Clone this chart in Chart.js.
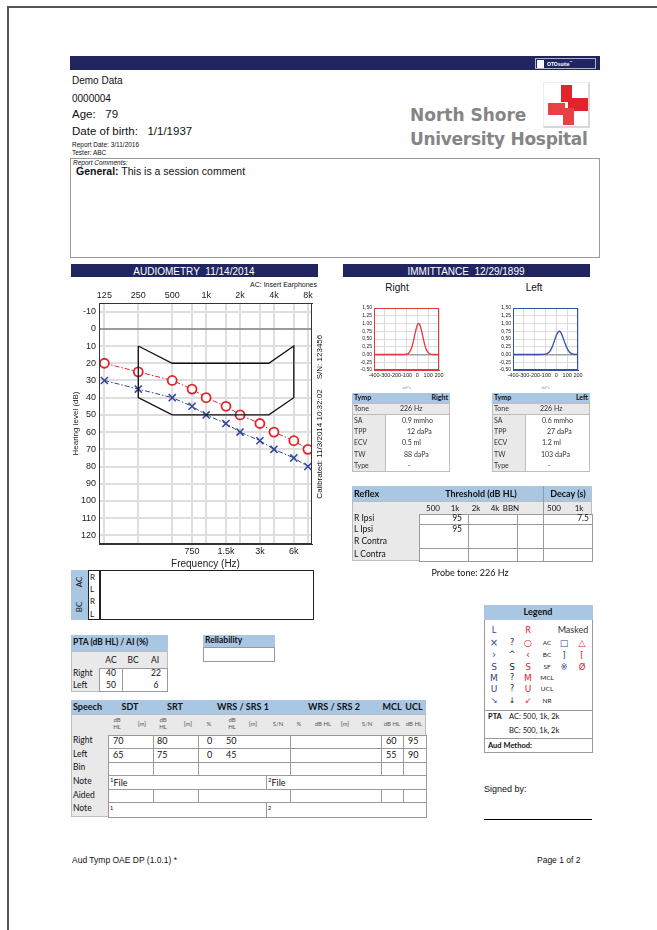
<!DOCTYPE html>
<html>
<head>
<meta charset="utf-8">
<script src="https://cdn.jsdelivr.net/npm/chart.js"></script>
<style>
  html, body { margin: 0; padding: 0; background: #fff; overflow: hidden; }
  body { width: 657px; height: 930px; font-family: "Liberation Sans", Arial, sans-serif; color: #111; }
  #page { position: absolute; left: 0; top: 0; width: 657px; height: 930px; }
  canvas { position: absolute; }
</style>
</head>
<body>
<div id="page">
  <div style="position:absolute;left:7px;top:6px;width:700px;height:1000px;border-left:2px solid #555;border-top:2px solid #555;"></div>
  <canvas id="audiogram" width="268" height="280" style="left:62px;top:290px;"></canvas>
  <canvas id="tympR" width="110" height="90" style="left:340px;top:300px;"></canvas>
  <canvas id="tympL" width="110" height="90" style="left:479px;top:300px;"></canvas>
</div>
<script>
// audiogram values (dB HL)
const freqs = [125, 250, 500, 750, 1000, 1500, 2000, 3000, 4000, 6000, 8000];
const rightAC = [20, 25, 30, 35, 40, 45, 50, 55, 60, 65, 70];
const leftAC = [30, 35, 40, 45, 50, 55, 60, 65, 70, 75, 80];

// speech banana outline
const bananaFreq = [250, 500, 3600, 6000, 6000, 3600, 500, 250, 250];
const bananaDb = [10, 20, 20, 10, 40, 50, 50, 40, 10];

const topTicks = [125, 250, 500, 1000, 2000, 4000, 8000];
const topLabels = ['125', '250', '500', '1k', '2k', '4k', '8k'];
const bottomTicks = [750, 1500, 3000, 6000];
const bottomLabels = ['750', '1.5k', '3k', '6k'];
const dbTicks = [-10, 0, 10, 20, 30, 40, 50, 60, 70, 80, 90, 100, 110, 120];

// tympanograms (daPa / mmho)
const rightPressure = [-400, -150, -100, -80, -60, -40, -20, 0, 12, 20, 40, 60, 80, 100, 120, 140, 200];
const rightAdm = [0, 0, 0.01, 0.04, 0.15, 0.37, 0.69, 0.95, 1.0, 0.98, 0.75, 0.43, 0.18, 0.06, 0.01, 0, 0];
const leftPressure = [-400, -150, -100, -80, -60, -40, -20, 0, 27, 40, 60, 80, 100, 120, 140, 160, 200];
const leftAdm = [0, 0, 0.01, 0.04, 0.1, 0.23, 0.42, 0.62, 0.75, 0.72, 0.56, 0.36, 0.19, 0.08, 0.03, 0.01, 0];

const navy = '#20255f';
const lblue = '#a9c7e3';
const red = '#e3232c';
const blue = '#2e4496';

const page = document.getElementById('page');

function box(x, y, w, h, style) {
  const d = document.createElement('div');
  d.style.cssText = `position:absolute;left:${x}px;top:${y}px;width:${w}px;height:${h}px;box-sizing:border-box;` + (style || '');
  page.appendChild(d);
  return d;
}

function txt(x, y, s, size, style, align) {
  const d = document.createElement('div');
  d.innerHTML = s;
  const tx = align === 'right' ? '-100%' : align === 'center' ? '-50%' : '0';
  d.style.cssText = `position:absolute;left:${x}px;top:${y}px;font-size:${size}px;line-height:1.1;white-space:nowrap;transform:translate(${tx},-50%);` + (style || '');
  page.appendChild(d);
  return d;
}

function rot(x, y, s, size, style) {
  const d = txt(x, y, s, size, style, 'center');
  d.style.transform = 'translate(-50%,-50%) rotate(-90deg)';
  return d;
}

const TB = 'font-family:Lato,"Noto Sans",sans-serif;';

// header bar
box(70, 56, 530, 14, 'background:' + navy);
box(535, 58, 61, 11, 'background:' + navy + ';border:1px solid #aab3d0');
box(537, 59.5, 7, 8, 'background:#fff');
txt(547, 63.5, 'OTOsuite<sup style="font-size:3px">™</sup>', 5, 'color:#fff;font-weight:bold;');

// patient info
txt(72, 80, 'Demo Data', 10);
txt(72, 98, '0000004', 10);
txt(72, 114, 'Age:&nbsp;&nbsp;&nbsp;79', 11.5);
txt(72, 131, 'Date of birth:&nbsp;&nbsp;&nbsp;1/1/1937', 11.5);
txt(72, 145, 'Report Date: 3/11/2016', 6.5);
txt(72, 153, 'Tester: ABC', 6.5);

// hospital logo
txt(410, 115, 'North Shore', 17, 'font-weight:bold;color:#858585;font-family:"DejaVu Sans",sans-serif;');
txt(410, 139, 'University Hospital', 17, 'font-weight:bold;color:#858585;font-family:"DejaVu Sans",sans-serif;letter-spacing:-0.3px;');
box(543, 82, 47, 46, 'border-top:1px solid #eee;border-left:1px solid #eee;border-right:2px solid #d8d8d8;border-bottom:2px solid #d8d8d8');
box(561, 85, 11, 17, 'background:' + red);
box(568, 98, 20, 13, 'background:' + red);
box(548, 103, 17, 12, 'background:#e84045');
box(563, 108, 11, 17, 'background:#e84045');

// comments
box(70, 158, 530, 100, 'border:1px solid #9a9a9a');
txt(73, 163, 'Report Comments:', 6.5, 'font-style:italic;');
txt(76, 172, '<b>General:</b> This is a session comment', 10.5);

// section bars
box(71, 264, 247, 13, 'background:' + navy);
txt(194, 270.5, 'AUDIOMETRY&nbsp;&nbsp;11/14/2014', 10, 'color:#fff;', 'center');
box(343, 264, 247, 13, 'background:' + navy);
txt(466, 270.5, 'IMMITTANCE&nbsp;&nbsp;12/29/1899', 10, 'color:#fff;', 'center');

txt(317, 285, 'AC: Insert Earphones', 7, '', 'right');
rot(320, 357, 'S/N: 123456', 8);
rot(320, 444, 'Calibrated: 11/3/2014 10:32:02', 8);

txt(397, 287, 'Right', 10, '', 'center');
txt(534, 287, 'Left', 10, '', 'center');

// tymp tables
function tympTable(x, side, vals) {
  box(x, 393, 98, 10, 'background:' + lblue);
  txt(x + 2, 398, '<b>Tymp</b>', 7, TB);
  txt(x + 96, 398, '<b>' + side + '</b>', 7, TB, 'right');
  box(x, 403, 98, 69, 'background:#e9e9e9;border:1px solid #bdbdbd');
  box(x, 403, 98, 12, 'border:1px solid #bdbdbd');
  box(x + 33, 415, 65, 57, 'background:#fff;border-left:1px solid #bdbdbd;border-bottom:1px solid #bdbdbd;border-right:1px solid #bdbdbd');
  const labels = ['Tone', 'SA', 'TPP', 'ECV', 'TW', 'Type'];
  const ys = [409, 421, 432, 443, 455, 466];
  labels.forEach((l, i) => {
    txt(x + 2, ys[i], l, 7, TB + 'color:#333;');
    txt(x + vals[i][0], ys[i], vals[i][1], 7, TB + 'color:#333;');
  });
}
tympTable(352, 'Right', [[48, '226 Hz'], [50, '0.9 mmho'], [55, '12 daPa'], [50, '0.5 ml'], [52, '88 daPa'], [56, '-']]);
tympTable(492, 'Left', [[48, '226 Hz'], [50, '0.6 mmho'], [55, '27 daPa'], [50, '1.2 ml'], [49, '103 daPa'], [56, '-']]);

// reflex table
box(352, 486, 240, 15, 'background:' + lblue);
txt(354, 494, '<b>Reflex</b>', 9, TB);
txt(481, 494, '<b>Threshold (dB HL)</b>', 9, TB, 'center');
txt(568, 494, '<b>Decay (s)</b>', 9, TB, 'center');
box(352, 501, 240, 60, 'background:#e9e9e9;border:1px solid #bdbdbd');
box(543, 486, 1, 75, 'background:#9a9a9a');
[['500', 433], ['1k', 455], ['2k', 476], ['4k', 495], ['BBN', 511], ['500', 554], ['1k', 579]].forEach(h => txt(h[1], 508, h[0], 8, TB, 'center'));
const rCols = [[419, 468], [468, 517], [517, 543], [543, 592]];
const rRows = [[514, 524], [524, 548], [548, 561]];
rRows.forEach(r => rCols.forEach(c => box(c[0], r[0], c[1] - c[0] + 1, r[1] - r[0] + 1, 'background:#fff;border:1px solid #9a9a9a')));
[['R Ipsi', 519], ['L Ipsi', 530], ['R Contra', 542], ['L Contra', 555]].forEach(r => txt(354, r[1], r[0], 8.5, TB));
txt(462, 519, '95', 8.5, TB, 'right');
txt(462, 530, '95', 8.5, TB, 'right');
txt(589, 519, '7.5', 8.5, TB, 'right');
txt(470, 573, 'Probe tone: 226 Hz', 9, TB, 'center');

// AC / BC box
box(71, 570, 17, 50, 'background:' + lblue);
rot(79, 582, 'AC', 8, TB);
rot(79, 607, 'BC', 8, TB);
box(88, 570, 226, 50, 'border:1.5px solid #222;background:#fff');
box(99, 570, 1.5, 50, 'background:#222');
['R', 'L', 'R', 'L'].forEach((s, i) => txt(90, [577, 589, 601, 614][i], s, 8, TB));

// PTA
box(71, 635, 97, 16, 'background:' + lblue);
txt(73, 643, '<b>PTA (dB HL) / AI (%)</b>', 8.5, TB);
box(71, 651, 97, 41, 'background:#e9e9e9;border:1px solid #bdbdbd');
[['AC', 111], ['BC', 133], ['AI', 155]].forEach(h => txt(h[1], 661, h[0], 8.5, TB, 'center'));
box(99, 668, 69, 24, 'background:#fff;border:1px solid #9a9a9a');
box(122, 668, 1, 24, 'background:#9a9a9a');
txt(73, 674, 'Right', 8.5, TB);
txt(73, 686, 'Left', 8.5, TB);
txt(111, 674, '40', 8.5, TB, 'center');
txt(156, 674, '22', 8.5, TB, 'center');
txt(111, 686, '50', 8.5, TB, 'center');
txt(156, 686, '6', 8.5, TB, 'center');

// reliability
box(203, 635, 72, 12, 'background:' + lblue);
txt(205, 641, '<b>Reliability</b>', 8.5, TB);
box(203, 647, 72, 15, 'border:1px solid #9a9a9a;background:#fff');

// speech
box(71, 700, 355, 14, 'background:' + lblue);
txt(73, 707, '<b>Speech</b>', 9, TB);
[['SDT', 130], ['SRT', 175], ['WRS / SRS 1', 243], ['WRS / SRS 2', 334], ['MCL', 392], ['UCL', 414]].forEach(h => txt(h[1], 707, '<b>' + h[0] + '</b>', 9, TB, 'center'));
box(71, 714, 355, 103, 'background:#e9e9e9;border:1px solid #bdbdbd');
[['dB<br>HL', 117], ['[m]', 142], ['dB<br>HL', 163], ['[m]', 188], ['%', 209], ['dB<br>HL', 232], ['[m]', 253], ['S/N', 278],
 ['%', 299], ['dB HL', 323], ['[m]', 345], ['S/N', 367], ['dB HL', 392], ['dB HL', 414]].forEach(h => txt(h[1], 724, h[0], 6, TB + 'color:#555;text-align:center;', 'center'));
const sCols = [[108, 153], [153, 198], [198, 290], [290, 381], [381, 403], [403, 426]];
const nCols = [[108, 266], [266, 426]];
const sRows = [[735, 748, sCols], [748, 762, sCols], [762, 775, sCols], [775, 789, nCols], [789, 802, sCols], [802, 817, nCols]];
sRows.forEach(r => r[2].forEach(c => box(c[0], r[0], c[1] - c[0] + 1, r[1] - r[0] + 1, 'background:#fff;border:1px solid #9a9a9a')));
[['Right', 741], ['Left', 755], ['Bin', 768], ['Note', 782], ['Aided', 796], ['Note', 809]].forEach(r => txt(73, r[1], r[0], 8.5, TB));
[[113, '70'], [157, '80'], [207, '0'], [226, '50'], [386, '60'], [408, '95']].forEach(v => txt(v[0], 741, v[1], 9, TB));
[[113, '65'], [157, '75'], [207, '0'], [226, '45'], [386, '55'], [408, '90']].forEach(v => txt(v[0], 755, v[1], 9, TB));
txt(110, 782, '<sup style="font-size:6px">1</sup>File', 9, TB);
txt(268, 782, '<sup style="font-size:6px">2</sup>File', 9, TB);
txt(110, 808, '1', 5.5, TB);
txt(268, 808, '2', 5.5, TB);

// legend
box(484, 605, 109, 148, 'border:1px solid #9a9a9a');
box(484, 605, 109, 15, 'background:' + lblue);
txt(538, 612, '<b>Legend</b>', 9, TB, 'center');
txt(494, 630, 'L', 9, TB + 'color:' + blue, 'center');
txt(528, 630, 'R', 9, TB + 'color:' + red, 'center');
txt(573, 630, 'Masked', 9, TB + 'color:#333', 'center');
const legendRows = [
  [['×', blue, 10], ['?', '#222', 8], ['○', red, 9.5], ['AC', '#222', 6.5], ['□', blue, 9], ['△', red, 9]],
  [['›', blue, 10], ['^', '#222', 8], ['‹', red, 10], ['BC', '#222', 6.5], [']', blue, 8.5], ['[', red, 8.5]],
  [['S', blue, 9], ['S', '#222', 9], ['S', red, 9], ['SF', '#222', 6.5], ['※', blue, 8.5], ['Ø', red, 8.5]],
  [['M', blue, 9], ['?', '#222', 8], ['M', red, 9], ['MCL', '#222', 6.5]],
  [['U', blue, 9], ['?', '#222', 8], ['U', red, 9], ['UCL', '#222', 6.5]],
  [['↘', blue, 8], ['↓', '#222', 8], ['↙', red, 8], ['NR', '#222', 6.5]]
];
const lgY = [643, 655, 667, 678, 689, 701];
const lgX = [494, 512, 528, 547, 564, 582];
legendRows.forEach((row, i) => row.forEach((c, j) => txt(lgX[j], lgY[i], c[0], c[2],
  'line-height:1;color:' + c[1] + ';font-family:' + (j === 3 ? 'Lato,sans-serif' : '"DejaVu Sans",sans-serif'), 'center')));
box(484, 710, 109, 1, 'background:#9a9a9a');
txt(488, 717, '<b>PTA</b>', 7.5, TB);
txt(509, 717, 'AC: 500, 1k, 2k', 7.5, TB);
txt(509, 731, 'BC: 500, 1k, 2k', 7.5, TB);
box(484, 738, 109, 1, 'background:#9a9a9a');
txt(488, 745.5, '<b>Aud Method:</b>', 7.5, TB);

// signature & footer
txt(484, 790, 'Signed by:', 9);
box(484, 819, 108, 1, 'background:#000');
txt(72, 861, 'Aud Tymp OAE DP (1.0.1) *', 8.5);
txt(537, 861, 'Page 1 of 2', 8.5);

// ---------- charts ----------
Chart.defaults.font.family = '"Liberation Sans", Arial, sans-serif';
Chart.defaults.color = '#222';

const frame = {
  id: 'frame',
  afterDraw(chart, args, opts) {
    const { ctx, chartArea: a } = chart;
    ctx.save();
    ctx.strokeStyle = opts.color || '#333';
    ctx.lineWidth = opts.width || 1;
    ctx.strokeRect(a.left + 0.5, a.top + 0.5, a.width - 1, a.height - 1);
    ctx.restore();
  }
};

function freqAxis(position, ticks, labels, height, title) {
  return {
    type: 'logarithmic',
    position: position,
    min: 112,
    max: 8700,
    afterBuildTicks: s => { s.ticks = ticks.map(v => ({ value: v })); },
    afterFit: s => { s.height = height; },
    ticks: {
      callback: v => labels[ticks.indexOf(v)],
      font: { size: 9 },
      padding: 2,
      autoSkip: false,
      maxRotation: 0
    },
    grid: { color: '#dedede', lineWidth: 2, drawTicks: false },
    border: { color: '#333' },
    title: title ? { display: true, text: title, font: { size: 10 }, padding: 0 } : { display: false }
  };
}

new Chart(document.getElementById('audiogram'), {
  type: 'line',
  data: {
    datasets: [
      {
        data: bananaFreq.map((f, i) => ({ x: f, y: bananaDb[i] })),
        xAxisID: 'x',
        borderColor: '#111',
        borderWidth: 1.3,
        pointRadius: 0,
        tension: 0,
        fill: false
      },
      {
        data: freqs.map((f, i) => ({ x: f, y: rightAC[i] })),
        xAxisID: 'x',
        borderColor: red,
        borderWidth: 1,
        borderDash: [5, 2, 1.5, 2],
        pointStyle: 'circle',
        pointRadius: 4.5,
        pointBorderWidth: 1.8,
        pointBorderColor: red,
        pointBackgroundColor: '#fff',
        fill: false
      },
      {
        data: freqs.map((f, i) => ({ x: f, y: leftAC[i] })),
        xAxisID: 'x',
        borderColor: blue,
        borderWidth: 1,
        borderDash: [5, 2, 1.5, 2],
        pointStyle: 'crossRot',
        pointRadius: 5,
        pointBorderWidth: 1.5,
        pointBorderColor: blue,
        fill: false
      }
    ]
  },
  options: {
    responsive: false,
    animation: false,
    layout: { padding: { right: 18 } },
    plugins: { legend: { display: false }, tooltip: { enabled: false }, frame: { color: '#333' } },
    scales: {
      x: freqAxis('bottom', bottomTicks, bottomLabels, 26, 'Frequency (Hz)'),
      xTop: freqAxis('top', topTicks, topLabels, 13, null),
      y: {
        type: 'linear',
        reverse: true,
        min: -15,
        max: 125,
        afterBuildTicks: s => { s.ticks = dbTicks.map(v => ({ value: v })); },
        afterFit: s => { s.width = 37; },
        ticks: { font: { size: 9 }, padding: 3, autoSkip: false },
        grid: {
          color: c => (c.tick && c.tick.value === 0 ? '#9a9a9a' : '#dedede'),
          lineWidth: 2,
          drawTicks: false
        },
        border: { color: '#333' },
        title: { display: true, text: 'Hearing level (dB)', font: { size: 8 }, padding: { top: 9, bottom: 0 } }
      }
    }
  },
  plugins: [frame]
});

function tymp(id, pressure, adm, color) {
  new Chart(document.getElementById(id), {
    type: 'line',
    data: {
      datasets: [{
        data: pressure.map((p, i) => ({ x: p, y: adm[i] })),
        borderColor: color,
        borderWidth: 1.3,
        pointRadius: 0,
        cubicInterpolationMode: 'monotone',
        fill: false
      }]
    },
    options: {
      responsive: false,
      animation: false,
      layout: { padding: { top: 8, right: 11 } },
      plugins: { legend: { display: false }, tooltip: { enabled: false }, frame: { color: color } },
      scales: {
        x: {
          type: 'linear',
          min: -400,
          max: 200,
          afterFit: s => { s.height = 20; },
          ticks: { stepSize: 100, font: { size: 5.5 }, padding: 2, maxRotation: 0, autoSkip: false },
          grid: { color: '#dcdcdc', drawTicks: false },
          border: { color: color },
          title: { display: true, text: 'daPa', font: { size: 3.5 }, color: '#999', padding: 0 }
        },
        y: {
          type: 'linear',
          min: -0.5,
          max: 1.5,
          afterFit: s => { s.width = 34; },
          ticks: { stepSize: 0.25, font: { size: 5 }, padding: 2, autoSkip: false, callback: v => v.toFixed(2).replace('.', ',') },
          grid: {
            color: c => (c.tick && c.tick.value === 0 ? '#a0a0a0' : '#dcdcdc'),
            lineWidth: c => (c.tick && c.tick.value === 0 ? 1.5 : 1),
            drawTicks: false
          },
          border: { color: color }
        }
      }
    },
    plugins: [frame]
  });
}

tymp('tympR', rightPressure, rightAdm, '#e03a3a');
tymp('tympL', leftPressure, leftAdm, '#3550a8');
</script>
</body>
</html>
